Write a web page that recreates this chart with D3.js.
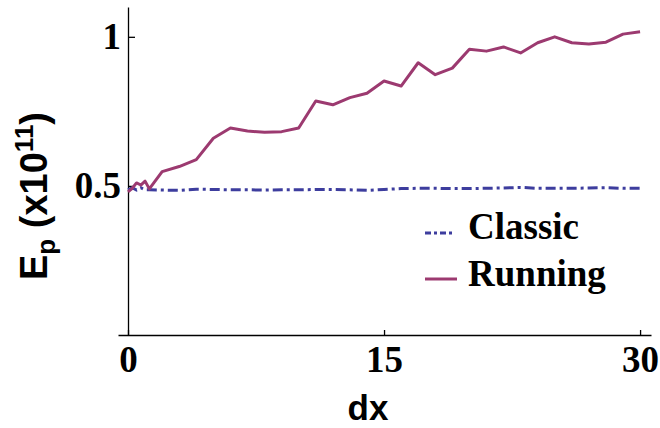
<!DOCTYPE html>
<html>
<head>
<meta charset="utf-8">
<script src="https://cdn.jsdelivr.net/npm/d3@7"></script>
<style>
  body { margin: 0; background: #fff; }
</style>
</head>
<body>
<svg></svg>
<script>
var width = 660;
var height = 428;

var dx = [0, 0.25, 0.5, 0.75, 1, 1.25, 2, 3, 4, 5, 6, 7, 8, 9, 10, 11, 12, 13, 14, 15,
          16, 17, 18, 19, 20, 21, 22, 23, 24, 25, 26, 27, 28, 29, 30];
var running = [0.48, 0.492, 0.51, 0.503, 0.516, 0.49, 0.548, 0.565, 0.588, 0.66, 0.694, 0.684,
               0.68, 0.682, 0.694, 0.785, 0.772, 0.796, 0.811, 0.852, 0.835, 0.913, 0.873, 0.895,
               0.958, 0.952, 0.966, 0.946, 0.98, 1.0, 0.98, 0.976, 0.982, 1.009, 1.017];
var classic = [0.487, 0.494, 0.486, 0.494, 0.487, 0.487, 0.486, 0.485, 0.489, 0.488, 0.487, 0.487,
               0.486, 0.487, 0.487, 0.488, 0.488, 0.487, 0.485, 0.488, 0.491, 0.492, 0.492, 0.491,
               0.491, 0.492, 0.493, 0.495, 0.492, 0.492, 0.492, 0.493, 0.494, 0.492, 0.492];
var xTicks = [0, 15, 30];
var yTicks = [0.5, 1];
var yTickLabels = ["0.5", "1"];
var seriesNames = ["Classic", "Running"];

var serif = "'Liberation Serif', 'Times New Roman', serif";
var sans = "'Liberation Sans', Arial, sans-serif";

var xScale = d3.scaleLinear()
                .domain([-0.586, 30.64])
                .range([118, 651]);

var yScale = d3.scaleLinear()
                .domain([0, 1.1])
                .range([335, 7]);

var svg = d3.select("svg")
    .attr("width", width)
    .attr("height", height);

var xAxis = d3.axisBottom(xScale)
                .tickValues(xTicks)
                .tickSize(-5)
                .tickSizeOuter(0)
                .tickPadding(11);

var yAxis = d3.axisLeft(yScale)
                .tickValues(yTicks)
                .tickFormat((d, i) => yTickLabels[i])
                .tickSize(-7)
                .tickSizeOuter(0)
                .tickPadding(7);

var gx = svg.append("g")
      .attr("transform", "translate(0,335)")
      .call(xAxis);

var gy = svg.append("g")
      .attr("transform", "translate(" + xScale(0) + ",0)")
      .call(yAxis);

[gx, gy].forEach(function(g) {
  g.selectAll("path, line").attr("stroke", "#000").attr("stroke-width", 1.3);
  g.selectAll("text")
      .attr("fill", "#000")
      .style("font-family", serif)
      .style("font-weight", "bold")
      .style("font-size", "37px");
});

var line = d3.line()
    .x((d, i) => xScale(dx[i]))
    .y(d => yScale(d));

svg.append("path")
    .datum(classic)
    .attr("fill", "none")
    .attr("stroke", "#3d3d9e")
    .attr("stroke-width", 3)
    .attr("stroke-dasharray", "10,4,3,4")
    .attr("d", line);

svg.append("path")
    .datum(running)
    .attr("fill", "none")
    .attr("stroke", "#9c3a70")
    .attr("stroke-width", 3)
    .attr("stroke-linejoin", "round")
    .attr("d", line);

// legend
var legend = svg.append("g");

legend.append("line")
    .attr("x1", 425).attr("x2", 452)
    .attr("y1", 233).attr("y2", 233)
    .attr("stroke", "#3d3d9e")
    .attr("stroke-width", 3)
    .attr("stroke-dasharray", "6,3,3,3");

legend.append("line")
    .attr("x1", 425).attr("x2", 457)
    .attr("y1", 279).attr("y2", 279)
    .attr("stroke", "#9c3a70")
    .attr("stroke-width", 3);

legend.selectAll("text")
  .data(seriesNames)
  .enter()
  .append("text")
    .attr("x", 468)
    .attr("y", (d, i) => 239 + i * 47)
    .style("font-family", serif)
    .style("font-weight", "bold")
    .style("font-size", "37px")
    .text(d => d);

svg.append("text")
    .attr("x", 368)
    .attr("y", 420)
    .style("text-anchor", "middle")
    .style("font-family", sans)
    .style("font-weight", "bold")
    .style("font-size", "35px")
    .text("dx");

var ylab = svg.append("text")
    .attr("transform", "rotate(-90)")
    .attr("x", -196)
    .attr("y", 47)
    .style("text-anchor", "middle")
    .style("font-family", sans)
    .style("font-weight", "bold")
    .style("font-size", "38px");

ylab.append("tspan").text("E");
ylab.append("tspan").attr("dy", 8).style("font-size", "26px").text("p");
ylab.append("tspan").attr("dy", -8).text(" (x10");
ylab.append("tspan").attr("dy", -14).style("font-size", "26px").text("11");
ylab.append("tspan").attr("dy", 14).text(")");
</script>
</body>
</html>
